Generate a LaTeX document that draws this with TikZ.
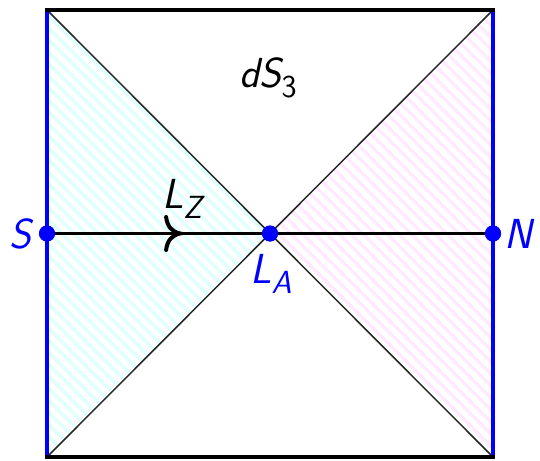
\documentclass[tikz,border=0pt]{standalone}
\usepackage{fontspec}
\usetikzlibrary{patterns.meta,decorations.markings}
\newcommand{\mysub}[1]{\raisebox{-0.24em}{\fontsize{32}{34}\selectfont #1}}
\begin{document}
\begin{tikzpicture}[x=1pt,y=-1pt,
  lbl/.style={font=\fontsize{42}{48}\selectfont\sffamily\slshape, inner sep=0pt},
  dot/.style={circle, fill=blue, draw=none, minimum size=16pt, inner sep=0pt},
  diag/.style={line width=1.5pt, black!85},
  sidebl/.style={line width=3.2pt, blue},
  sidebk/.style={line width=4.5pt, black},
  hatch/.style={pattern={Lines[angle=-45,distance=8.5pt,line width=3.4pt]}}]
\useasboundingbox (0,0) rectangle (540,460);
\coordinate (TL) at (47,10);
\coordinate (TR) at (493,10);
\coordinate (BL) at (47,457);
\coordinate (BR) at (493,457);
% hatched regions
\fill[hatch, pattern color=cyan!12] (TL) -- (270,233.5) -- (BL) -- cycle;
\fill[hatch, pattern color=magenta!8] (TR) -- (270,233.5) -- (BR) -- cycle;
% diagonals
\draw[diag] (TL) -- (BR);
\draw[diag] (TR) -- (BL);
% nodes
\node[dot] (S) at (47,233.5) {};
\node[dot] (LA) at (270,233.5) {};
\node[dot] (N) at (493,233.5) {};
% horizontal line with arrow
\draw[line width=2.6pt, postaction={decorate}, decoration={markings, mark=at position 0.597 with {\draw[line width=4pt, line cap=round] (-14pt,16.5pt) .. controls (-13pt,7pt) and (-8pt,1.5pt) .. (0pt,0pt) .. controls (-8pt,-1.5pt) and (-13pt,-7pt) .. (-14pt,-16.5pt);}}] (S.center) -- (LA.center);
\draw[line width=2.6pt] (LA.center) -- (N.center);
% edges
\draw[sidebl] (TL) -- (BL);
\draw[sidebl] (TR) -- (BR);
\draw[sidebk] ([xshift=-1.6pt]TL) -- ([xshift=1.6pt]TR);
\draw[sidebk] ([xshift=-1.6pt]BL) -- ([xshift=1.6pt]BR);
% redraw dots on top
\node[dot] at (S) {};
\node[dot] at (LA) {};
\node[dot] at (N) {};
% labels
\node[lbl] (ds) at (268,78) {dS\mysub{\upshape 3}};
\node[lbl, blue] (sl) at (20,234) {S};
\node[lbl, blue] (nl) at (518,234) {N};
\node[lbl, blue] (lal) at (271,274) {L\mysub{A}};
\node[lbl] (lzl) at (182,199) {L\mysub{Z}};
\end{tikzpicture}
\end{document}
